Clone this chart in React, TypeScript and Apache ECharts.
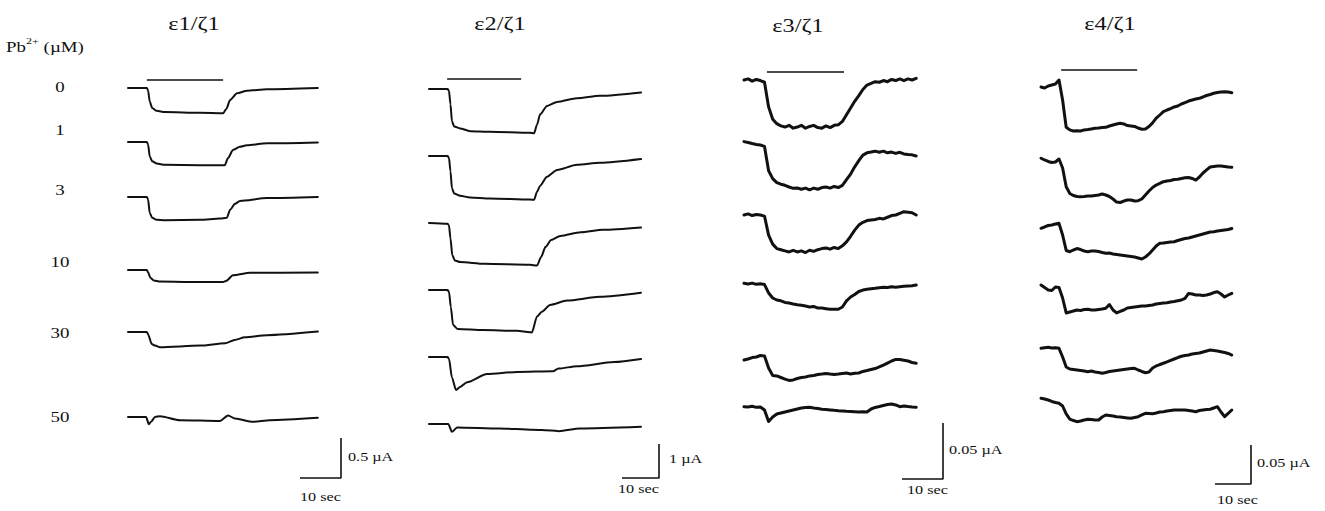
import React, { useEffect, useRef } from "react";
import * as echarts from "echarts";

// ---------------- DATA ----------------
const TITLES = ["ε1/ζ1", "ε2/ζ1", "ε3/ζ1", "ε4/ζ1"];
const CONCENTRATIONS = ["0", "1", "3", "10", "30", "50"];
const TIME_LABEL = "10 sec";
const SCALE_LABELS = ["0.5 µA", "1 µA", "0.05 µA", "0.05 µA"];
const SCALE_TIME = [10, 10, 10, 10]; // seconds
const SCALE_CURRENT = [0.5, 1, 50, 50]; // panel units (µA, µA, nA, nA)
const DURATIONS = [46.3, 57.3, 42, 53]; // seconds
const STIM = [
  [4.6, 23.2],
  [4.9, 24.9],
  [5.6, 24.4],
  [5.6, 26.7],
];

// ε1/ζ1 traces: [time s, current µA]
const E1_PB0 = [[0, 0], [4.6, 0], [4.9, -0.03], [5.3, -0.17], [5.9, -0.25], [7.0, -0.285], [9, -0.3], [17.6, -0.31], [23.2, -0.315], [24.0, -0.26], [24.9, -0.15], [26.6, -0.067], [29, -0.034], [33.9, -0.016], [46.3, 0]];
const E1_PB1 = [[0, 0], [4.6, 0], [4.9, -0.03], [5.3, -0.18], [5.9, -0.24], [7.0, -0.27], [9, -0.285], [17.6, -0.29], [23.6, -0.29], [24.4, -0.2], [25.6, -0.1], [27.3, -0.06], [29, -0.04], [33.9, -0.017], [46.3, -0.005]];
const E1_PB3 = [[0, 0], [4.6, 0], [4.9, -0.03], [5.3, -0.2], [5.9, -0.26], [7.0, -0.285], [9, -0.29], [17.6, -0.285], [22.4, -0.27], [24.1, -0.26], [24.9, -0.16], [26.1, -0.085], [27.3, -0.05], [33.9, -0.014], [46.3, 0]];
const E1_PB10 = [[0, 0], [4.6, 0], [4.9, -0.03], [5.5, -0.1], [6.3, -0.13], [7.8, -0.145], [15, -0.15], [23.2, -0.15], [24.0, -0.135], [25.6, -0.065], [29.8, -0.035], [46.3, -0.03]];
const E1_PB30 = [[0, 0], [4.6, 0], [4.9, -0.03], [5.8, -0.15], [6.6, -0.17], [7.8, -0.19], [17.6, -0.17], [23.7, -0.14], [26, -0.1], [28.5, -0.065], [33.9, -0.04], [46.3, 0.005]];
const E1_PB50 = [[0, 0], [4.4, 0], [5.1, -0.09], [5.6, -0.06], [6.6, 0], [7.8, 0.01], [12.7, -0.04], [22.4, -0.05], [24.4, 0.02], [26.1, -0.02], [30.5, -0.06], [34.6, -0.04], [46.3, -0.01]];

// ε2/ζ1 traces: [time s, current µA]
const E2_PB0 = [[0, 0], [5.0, 0], [5.4, -0.05], [5.8, -0.45], [6.2, -0.95], [6.8, -1.1], [8.4, -1.16], [11.1, -1.24], [16.5, -1.26], [27.3, -1.29], [28.4, -1.3], [29.2, -1.05], [30, -0.75], [31.9, -0.5], [34.6, -0.38], [40, -0.27], [46.2, -0.2], [57.3, -0.1]];
const E2_PB1 = [[0, 0], [5.0, 0], [5.4, -0.05], [5.8, -0.45], [6.2, -0.95], [6.8, -1.1], [8.4, -1.17], [11.1, -1.22], [16.5, -1.25], [27.3, -1.28], [28.4, -1.29], [29.2, -1.05], [30, -0.88], [31.9, -0.61], [34.6, -0.41], [40, -0.26], [46.2, -0.2], [57.3, -0.09]];
const E2_PB3 = [[0, 0], [5.0, -0.02], [5.4, -0.07], [5.8, -0.45], [6.3, -0.95], [7.0, -1.1], [8.4, -1.15], [15, -1.2], [27.3, -1.23], [29.2, -1.25], [30.3, -1.0], [31.5, -0.7], [33, -0.5], [35.5, -0.38], [41, -0.27], [47, -0.2], [57.3, -0.13]];
const E2_PB10 = [[0, 0], [5.0, 0], [5.4, -0.05], [5.9, -0.5], [6.5, -1.03], [7.8, -1.15], [14.6, -1.18], [23.8, -1.2], [27.3, -1.24], [27.8, -1.25], [29.2, -0.78], [30.5, -0.64], [32.7, -0.44], [37.3, -0.31], [46.2, -0.2], [57.3, -0.08]];
const E2_PB30 = [[0, 0], [5.0, 0], [5.4, -0.05], [6.2, -0.6], [7.3, -0.97], [8.4, -0.88], [10.3, -0.74], [15.7, -0.5], [23.8, -0.44], [33.5, -0.42], [35, -0.34], [40, -0.27], [50, -0.15], [57.3, -0.06]];
const E2_PB50 = [[0, 0], [5.2, 0], [6.2, -0.23], [7.6, -0.1], [19, -0.13], [28, -0.17], [33, -0.19], [35.1, -0.21], [40.8, -0.13], [57.3, -0.08]];

// ε3/ζ1 traces: one sample per second, current in nA
const E3_DT = 1;
const E3_PB0 = [0, 1, -1, 0.5, -0.5, -2, -24, -35, -39, -41, -42, -40.5, -43, -42, -40.5, -43, -41.5, -40.5, -42.5, -43, -41, -42.5, -40.5, -40, -37, -31, -25, -19, -14, -8.5, -4.5, -3, -1.5, -2, -0.5, -1.5, 0.5, -0.5, 1, -0.5, 1, 0, 1.5];
const E3_PB1 = [3, 2.2, 1.3, 0.5, 0, -1.3, -23, -30, -33.6, -35, -36, -37.5, -38.7, -38.4, -39.5, -38.5, -40, -38.5, -39.5, -38, -37.5, -38.5, -37, -38, -36, -31, -26, -19.5, -14, -9, -7, -6.3, -5.5, -6.5, -5.5, -7, -6.3, -7.5, -6.5, -8, -8.5, -8.8, -9.8];
const E3_PB3 = [0, 1, -0.5, 0.5, 0, -1, -18, -26, -30, -31, -32, -33, -31.5, -33, -32, -33.5, -31.5, -32.5, -31, -30, -29.5, -30.5, -29, -30, -27.5, -24, -19, -13.5, -9, -6.5, -5, -4.5, -4, -3, -3.5, -2, -0.5, 0, 1.5, 3, 2.5, 2, 0];
const E3_PB10 = [0.6, 0, 0.8, -0.3, 0.3, -0.5, -8, -12.5, -14.3, -15, -16.5, -17, -17.8, -18.5, -19, -19.6, -20.5, -20, -21.5, -21.5, -22, -22.5, -22.6, -22.5, -20.5, -15, -11.6, -9.4, -6.7, -5.4, -4.7, -4.2, -3.8, -3.3, -3, -3.2, -2.5, -2.8, -2.4, -2.1, -1.8, -1.5, -0.9];
const E3_PB30 = [-1.8, -0.9, 0.4, 0.9, 2.2, 1.8, -9, -15.6, -16, -17.4, -18.8, -20, -19.6, -18.3, -17.4, -17, -16, -15.6, -14.7, -14.3, -13.8, -14.3, -14.7, -14.3, -13.8, -13.4, -14.3, -13.7, -13.4, -12, -11.2, -10.3, -9.4, -8, -6.3, -4.5, -2.7, -1.3, -1.3, -2, -2.7, -4, -4.7];
const E3_PB50 = [0.3, 0, 0.6, -0.3, 0, -2.7, -13, -9, -6.3, -5.4, -4.5, -3.6, -2.7, -1.8, -0.9, -0.4, -0.3, -0.9, -1.3, -2, -2.2, -2.6, -3, -3.3, -3.5, -3.8, -4, -4.2, -4.5, -4.2, -4.5, -1.8, -0.4, 0.4, 1.3, 2.2, 2.7, 1.8, 0.3, 0.9, 0.4, 0, -0.3];

// ε4/ζ1 traces: one sample per second, current in nA
const E4_DT = 1;
const E4_PB0 = [0, -1.3, 1.3, 2.6, 3.8, 9, -16.7, -51.7, -55, -56.4, -56, -56.4, -55, -54.5, -53.8, -53, -52.6, -52, -51.7, -50, -48.7, -47.4, -46.5, -47.4, -49.4, -50, -50.6, -52.6, -54.2, -53.8, -50.6, -46, -40, -35.9, -31.7, -29.5, -27.6, -25.6, -24.4, -21.8, -19.9, -18, -16.7, -15.4, -14.5, -12.8, -10.9, -9.6, -8, -7, -6.4, -6, -6.4, -7.3];
const E4_PB1 = [3.5, 1.3, -0.6, -1.9, -1.3, 2.6, -9, -33, -41.7, -44.2, -45.5, -45.8, -45.5, -44.9, -44.9, -44.2, -43.6, -42.3, -43.6, -45.5, -48.7, -52.6, -53.2, -51.3, -50, -50, -51.3, -50.9, -48.7, -43.6, -38.5, -34, -30.8, -28.8, -26.5, -25.6, -25, -23.7, -23.5, -22.4, -21.4, -21.2, -22.4, -24.4, -20.5, -15.4, -11.5, -7.7, -7, -6.4, -6.4, -7, -7.7, -8.1];
const E4_PB3 = [-0.4, 1.3, 3.2, 3.8, 5.1, 6, -9, -28.8, -30.4, -28.2, -26.3, -27.6, -29.5, -30.4, -29.5, -29.5, -30.1, -31.4, -32.4, -32, -33.3, -34, -34.6, -35.3, -35.9, -36.5, -37.2, -38.5, -39.7, -37.2, -33.3, -28.2, -23, -19.6, -19.2, -18.6, -17.9, -17.6, -16, -14.7, -13.5, -12.8, -11.5, -10.3, -9, -7.7, -6.4, -5.1, -4.7, -3.8, -3.2, -2.6, -1.9, -0.6];
const E4_PB10 = [3.8, 0.6, -2.6, -3.2, 1.3, 0.6, -12.8, -32, -30.8, -29.5, -28.2, -28.8, -27.6, -27.3, -28.2, -28.2, -27.6, -26.9, -26, -21.2, -28.2, -32, -30.1, -28.2, -25.6, -25, -24.4, -23.7, -23, -23, -22.4, -21.8, -20.5, -19.9, -19.2, -18.8, -17.9, -17.3, -16.3, -15.4, -13.2, -7, -7.7, -9, -9, -9.6, -9, -7.7, -5.8, -4.7, -7.7, -11.5, -9, -6.8];
const E4_PB30 = [-0.4, 0.4, 0.9, 0, 0.4, -0.4, -11.5, -24.4, -26.9, -27.6, -28.2, -28.8, -29.5, -30.4, -29.5, -30.8, -31.4, -32.4, -31.4, -30.1, -29.5, -28.8, -28.2, -27.6, -26.9, -26.3, -26, -28.2, -30.1, -31.7, -30.8, -25.6, -23, -21.2, -19.6, -17.9, -16, -14.1, -12.2, -10.6, -9.6, -9, -7.7, -7, -6.4, -5.1, -3.8, -2.6, -3.2, -3.8, -4.7, -5.8, -7, -9];
const E4_PB50 = [2.2, 1.3, 0, -1.9, -3.2, -4.2, -7.7, -17.9, -24.4, -26.3, -27.8, -26.9, -25.6, -24.7, -25, -25.6, -25.6, -21.8, -19.2, -19.9, -20.5, -21.4, -21.8, -22.4, -23, -23.5, -22.4, -21.4, -19.2, -17.1, -17.3, -17.6, -16.7, -15.4, -15, -14.1, -13.5, -12.8, -12.8, -12.8, -12.8, -13.5, -14.1, -15, -13.5, -12.8, -12.2, -11.9, -10.3, -8.6, -15.4, -21.4, -17.1, -12.8];

const sampled = (vals: number[], dt: number) => vals.map((v, i) => [i * dt, v]);

const PANEL_TRACES: number[][][][] = [
  [E1_PB0, E1_PB1, E1_PB3, E1_PB10, E1_PB30, E1_PB50],
  [E2_PB0, E2_PB1, E2_PB3, E2_PB10, E2_PB30, E2_PB50],
  [E3_PB0, E3_PB1, E3_PB3, E3_PB10, E3_PB30, E3_PB50].map((v) => sampled(v, E3_DT)),
  [E4_PB0, E4_PB1, E4_PB3, E4_PB10, E4_PB30, E4_PB50].map((v) => sampled(v, E4_DT)),
];

// ---------------- LAYOUT ----------------
const FONT = '"Liberation Serif", "Times New Roman", serif';
const INK = "#111111";
const LAYOUT = [
  { x0: 128, pxPerSec: 4.1, pxPerUnit: 80, baselines: [88, 142, 197, 270, 332, 417], lineWidth: 2, smooth: 0.25, stimGap: 8, title: [194, 24], barRight: 341, barBottom: 478, unitLabel: [348, 457], timeLabel: [300, 497] },
  { x0: 429, pxPerSec: 3.7, pxPerUnit: 34, baselines: [89, 156, 223, 290, 357, 424], lineWidth: 2, smooth: 0.25, stimGap: 10, title: [500, 24], barRight: 659, barBottom: 478, unitLabel: [669, 459], timeLabel: [618, 489] },
  { x0: 744, pxPerSec: 4.1, pxPerUnit: 1.12, baselines: [80, 145, 215, 284, 358, 407], lineWidth: 3, smooth: 0, stimGap: 8, title: [798, 26], barRight: 943, barBottom: 479, unitLabel: [949, 450], timeLabel: [907, 490] },
  { x0: 1041, pxPerSec: 3.6, pxPerUnit: 0.78, baselines: [87, 161, 228, 288, 348, 400], lineWidth: 3, smooth: 0, stimGap: 17, title: [1110, 24], barRight: 1251, barBottom: 484, unitLabel: [1257, 463], timeLabel: [1217, 500] },
];
const CONC_X = 60;
const CONC_Y = [87, 130, 190, 262, 333, 417];
const TEXT_SCALE_X = 1.35;

function buildOption() {
  const grid: any[] = [];
  const xAxis: any[] = [];
  const yAxis: any[] = [];
  const series: any[] = [];
  const graphic: any[] = [];

  const addGrid = (left: number, top: number, width: number, height: number, xMin: number, xMax: number, yMin: number, yMax: number) => {
    const idx = grid.length;
    grid.push({ left, top, width, height, containLabel: false });
    xAxis.push({ type: "value", gridIndex: idx, min: xMin, max: xMax, show: false });
    yAxis.push({ type: "value", gridIndex: idx, min: yMin, max: yMax, show: false });
    return idx;
  };

  LAYOUT.forEach((L, p) => {
    const dur = DURATIONS[p];
    const width = dur * L.pxPerSec;
    const above = 30;
    const below = 70;
    PANEL_TRACES[p].forEach((trace, j) => {
      const base = L.baselines[j];
      const g = addGrid(L.x0, base - above, width, above + below, 0, dur, -below / L.pxPerUnit, above / L.pxPerUnit);
      series.push({
        type: "line",
        xAxisIndex: g,
        yAxisIndex: g,
        data: trace,
        showSymbol: false,
        symbol: "none",
        smooth: L.smooth,
        smoothMonotone: "x",
        clip: false,
        silent: true,
        lineStyle: { color: INK, width: L.lineWidth, join: "round", cap: "round" },
      });
      if (j === 0) {
        const lvl = L.stimGap / L.pxPerUnit;
        series.push({
          type: "line",
          xAxisIndex: g,
          yAxisIndex: g,
          data: [[STIM[p][0], lvl], [STIM[p][1], lvl]],
          showSymbol: false,
          symbol: "none",
          clip: false,
          silent: true,
          lineStyle: { color: INK, width: 1.6 },
        });
      }
    });
    // scale bar
    const bw = SCALE_TIME[p] * L.pxPerSec;
    const bh = SCALE_CURRENT[p] * L.pxPerUnit;
    const gb = addGrid(L.barRight - bw, L.barBottom - bh, bw, bh, 0, SCALE_TIME[p], 0, SCALE_CURRENT[p]);
    series.push({
      type: "line",
      xAxisIndex: gb,
      yAxisIndex: gb,
      data: [[0, 0], [SCALE_TIME[p], 0], [SCALE_TIME[p], SCALE_CURRENT[p]]],
      showSymbol: false,
      symbol: "none",
      clip: false,
      silent: true,
      lineStyle: { color: INK, width: 1.6 },
    });
    graphic.push({
      type: "text", x: L.title[0], y: L.title[1], scaleX: TEXT_SCALE_X, silent: true,
      style: { text: TITLES[p], fill: INK, font: `18px ${FONT}`, textAlign: "center", textVerticalAlign: "middle" },
    });
    graphic.push({
      type: "text", x: L.unitLabel[0], y: L.unitLabel[1], scaleX: TEXT_SCALE_X, silent: true,
      style: { text: SCALE_LABELS[p], fill: INK, font: `12px ${FONT}`, textAlign: "left", textVerticalAlign: "middle" },
    });
    graphic.push({
      type: "text", x: L.timeLabel[0], y: L.timeLabel[1], scaleX: TEXT_SCALE_X, silent: true,
      style: { text: TIME_LABEL, fill: INK, font: `12px ${FONT}`, textAlign: "left", textVerticalAlign: "middle" },
    });
  });

  CONCENTRATIONS.forEach((c, j) => {
    graphic.push({
      type: "text", x: CONC_X, y: CONC_Y[j], scaleX: TEXT_SCALE_X, silent: true,
      style: { text: c, fill: INK, font: `14px ${FONT}`, textAlign: "center", textVerticalAlign: "middle" },
    });
  });

  graphic.push({
    type: "text", x: 6, y: 45, scaleX: TEXT_SCALE_X, silent: true,
    style: {
      text: "{a|Pb}{s|2+}{a| (µM)}",
      fill: INK,
      textAlign: "left",
      textVerticalAlign: "middle",
      rich: {
        a: { fontFamily: FONT, fontSize: 14, fill: INK, lineHeight: 18, verticalAlign: "bottom" },
        s: { fontFamily: FONT, fontSize: 9, fill: INK, lineHeight: 18, verticalAlign: "top", padding: [0, 0, 6, 0] },
      },
    },
  });

  return {
    animation: false,
    backgroundColor: "#ffffff",
    tooltip: { show: false },
    grid,
    xAxis,
    yAxis,
    series,
    graphic,
  };
}

export default function App() {
  const ref = useRef<HTMLDivElement>(null);
  useEffect(() => {
    document.body.style.margin = "0";
    if (!ref.current) return;
    const chart = echarts.init(ref.current, undefined, { renderer: "svg" });
    chart.setOption(buildOption() as any);
    return () => chart.dispose();
  }, []);
  return <div ref={ref} style={{ width: 1325, height: 511, background: "#fff" }} />;
}
